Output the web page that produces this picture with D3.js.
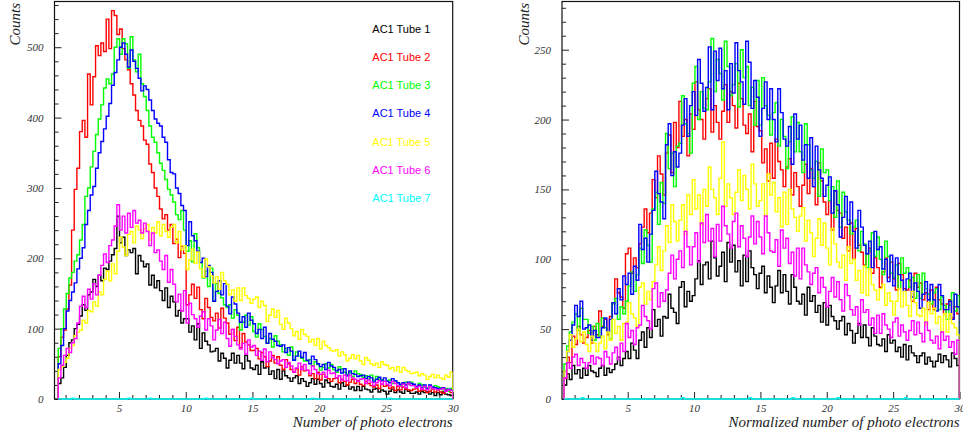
<!DOCTYPE html>
<html><head><meta charset="utf-8">
<script src="https://cdn.jsdelivr.net/npm/d3@7"></script>
<style>
html,body{margin:0;padding:0;background:#fff;}
svg{display:block;}
</style></head>
<body>
<svg id="c" width="963" height="439"></svg>
<script>
// ---------------- DATA ----------------
const tubeNames = ["AC1 Tube 1","AC1 Tube 2","AC1 Tube 3","AC1 Tube 4","AC1 Tube 5","AC1 Tube 6","AC1 Tube 7"];
const tubeColors = ["#000000","#ff0000","#00ff00","#0000ff","#ffff00","#ff00ff","#00ffff"];
const xMajorTicks = [5,10,15,20,25,30];
const leftYTicks = [0,100,200,300,400,500];
const rightYTicks = [0,50,100,150,200,250];
const leftXTitle = "Number of photo electrons";
const rightXTitle = "Normalized number of photo electrons";
const yTitle = "Counts";

// Left panel: photo-electron histograms (bins of ~0.2 from ~0.45 to 30)
const leftTube1 = [22,30,45, 62,80,84,100,106, 118,134,126,148,152, 170,160,176,168,186, 184,196,205,214,260, 222,230,204,212,208, 214,178,204,196,188, 192,162,176,158,168, 154,140,158,130,146, 138,118,126,108,114, 114,95,104,84,107, 72,94,82,77,67, 68,72,54,65,58, 44,55,65,51,62, 51,43,62,54,44, 42,48,35,53,44, 46,35,40,29,42, 28,40,33,30,25, 30,33,22,29,25, 18,23,29,21,28, 22,17,27,23,18, 17,21,14,23,18, 20,14,17,12,18, 12,18,14,13,10, 14,15,10,13,11, 7,11,14,9,13, 10,8,14,11,8, 8,10,7,11,9, 10,7,9,5,9, 6,10,7,6,5];
const leftTube2 = [60,88,98, 128,162,240,298,328, 380,396,372,462,418, 458,502,488,506,494, 540,498,552,545,518, 526,498,482,468,448, 432,410,396,388,368, 362,334,322,300,288, 270,256,262,240,248, 221,227,201,217,207, 134,148,163,143,159, 127,114,143,130,116, 111,122,101,129,115, 108,92,99,83,102, 73,93,81,77,69, 69,72,57,66,60, 46,54,62,51,60, 48,42,56,50,42, 38,43,34,46,40, 41,33,36,29,38, 27,35,31,29,25, 29,30,23,28,25, 20,24,28,22,26, 21,19,25,22,19, 17,20,15,21,18, 19,15,17,12,18, 13,17,14,13,12, 14,15,11,13,12, 9,11,14,10,13, 10,8,13,11,9];
const leftTube3 = [72,100,128, 150,172,180,196,205, 226,248,288,300,330, 352,376,398,418,442, 455,448,462,500,512, 490,512,505,470,515, 482,465,490,448,430, 410,388,372,365,350, 335,325,312,298,290, 280,262,255,268,240, 210,225,195,235,215, 194,172,182,160,186, 139,164,150,144,134, 130,134,115,127,119, 98,109,119,105,117, 96,88,107,99,89, 80,86,74,90,82, 77,67,72,62,74, 56,67,61,58,54, 54,56,47,53,49, 41,45,50,44,49, 42,38,46,43,38, 35,38,32,40,36, 35,31,33,28,34, 26,32,28,27,25, 26,27,22,25,23, 19,22,24,21,24, 19,17,22,20,17, 16,18,15,19,17, 16,13,15,11,15];
const leftTube4 = [50,76,100, 125,140,152,165,185, 200,215,248,268,290, 302,328,350,366,384, 402,420,446,464,482, 500,506,490,472,496, 480,470,456,438,445, 440,425,410,398,392, 388,372,365,340,322, 320,300,292,275,268, 218,252,232,225,210, 194,200,174,190,180, 139,153,168,148,164, 132,121,145,135,122, 109,117,102,122,112, 107,93,99,86,102, 79,93,85,82,76, 75,77,66,73,68, 55,61,68,59,66, 55,50,61,56,50, 46,49,42,52,47, 45,40,42,37,43, 33,40,36,35,32, 33,34,29,32,30, 24,28,31,26,30, 25,23,29,26,23, 21,23,20,24,22, 21,18,20,16,20, 15,20,17,16,15, 15,16,12,14,13];
const leftTube5 = [42,46,52, 58,72,76,90,95, 98,112,108,126,124, 138,132,152,148,170, 182,168,192,178,210, 230,216,204,234,238, 222,246,240,228,242, 248,226,244,236,252, 232,248,238,230,244, 248,222,238,212,218, 184,198,213,193,209, 185,173,199,188,175, 165,174,156,180,168, 163,148,155,139,158, 140,158,147,143,136, 142,145,130,139,133, 110,119,128,116,126, 106,99,115,108,100, 90,96,85,99,92, 89,81,85,76,86, 71,82,76,73,69, 68,70,61,67,63, 54,58,63,57,62, 54,49,59,55,50, 48,51,45,53,49, 48,43,45,40,46, 38,45,41,39,36, 37,38,33,36,34, 28,32,35,30,34, 30,28,34,31,38];
const leftTube6 = [30,48,62, 72,66,80,86,108, 132,146,130,156,142, 164,148,176,190,206, 194,218,226,246,276, 240,260,236,264,244, 268,250,254,236,250, 238,218,236,208,212, 196,184,204,166,184, 163,138,149,125,154, 108,136,120,114,102, 118,124,98,114,104, 84,98,113,93,109, 86,75,99,89,77, 71,79,64,84,74, 76,62,68,55,71, 53,67,59,56,50, 54,56,45,52,47, 38,44,51,42,49, 41,36,47,42,36, 35,38,31,41,36, 37,30,33,27,34, 26,34,30,28,25, 28,29,22,27,24, 19,23,26,21,25, 21,19,25,22,19, 18,21,16,22,19, 19,16,18,14,18, 13,18,15,14,13, 14,15,11,13,12];
const leftTube7 = [0,0,0, 0,0,1,0,0, 0,0,0,0,0, 0,0,0,0,0, 0,0,0,0,0, 0,0,0,1,0, 0,0,0,0,0, 0,1,0,0,0, 0,0,0,0,0, 0,0,0,0,0, 0,0,0,0,0, 0,0,1,0,0, 0,0,0,0,0, 0,0,0,0,0, 0,0,0,0,1, 0,0,0,0,0, 0,0,0,0,0, 0,0,0,0,0, 0,0,0,0,0, 0,0,1,0,0, 0,0,0,0,0, 0,0,0,0,0, 0,0,0,0,0, 0,0,0,0,0, 0,0,0,0,0, 0,1,0,0,0, 0,0,0,0,0, 0,0,0,0,0, 0,0,0,0,0, 0,0,0,0,0];

// Right panel: normalized photo-electron histograms (bins of ~0.2 from ~0.2 to 30)
const rightTube1 = [10,18,14, 24,18,21,15,22, 17,24,20,19,16, 22,24,17,22,19, 21,25,30,24,29, 34,29,40,35,29, 42,48,37,51,44, 64,52,57,45,59, 58,75,65,62,54, 80,84,66,77,70, 74,86,99,82,96, 98,86,113,101,88, 95,105,84,112,98, 110,91,99,81,103, 84,106,94,89,79, 90,95,76,88,80, 69,81,92,76,89, 77,68,89,80,70, 68,75,60,80,70, 74,62,67,55,69, 53,67,59,56,50, 56,59,46,54,49, 40,47,54,44,53, 44,38,51,45,39, 38,43,34,46,40, 42,34,37,30,39, 28,38,33,31,26, 31,33,25,30,27, 23,27,32,26,31, 28,23,33,29,24];
const rightTube2 = [15,30,26, 45,39,52,46,40, 44,49,40,52,46, 63,52,57,46,59, 69,86,76,73,65, 104,108,90,101,94, 111,123,136,119,133, 157,144,174,161,146, 176,189,162,198,180, 213,188,200,174,204, 193,227,207,200,186, 215,222,191,210,198, 186,206,225,198,220, 210,194,226,215,196, 190,204,177,213,195, 192,169,179,156,183, 158,186,170,164,152, 166,172,146,162,152, 138,153,168,147,165, 152,139,169,156,141, 132,142,121,149,135, 133,115,123,106,126, 100,122,110,105,96, 104,108,90,101,94, 80,91,101,87,98, 86,78,97,89,79, 78,85,70,90,80, 83,71,76,64,78, 64,80,71,68,61, 68,71,58,66,61];
const rightTube3 = [25,38,48, 55,61,49,65,57, 57,47,52,42,54, 45,58,51,48,43, 68,72,57,66,61, 70,81,91,77,89, 108,97,121,110,98, 136,148,125,155,140, 190,165,176,152,181, 183,217,197,190,176, 226,238,200,220,208, 207,227,258,220,243, 233,214,256,238,217, 225,240,209,250,230, 238,210,223,196,228, 196,230,210,203,189, 205,212,181,200,188, 165,184,202,177,198, 177,162,197,182,164, 158,170,145,179,162, 164,142,152,130,156, 123,148,134,128,118, 123,128,106,120,111, 94,106,119,102,116, 100,89,113,102,90, 87,96,79,101,90, 94,80,87,72,89, 72,90,79,75,68, 76,79,64,73,67, 57,67,76,63,74];
const rightTube4 = [20,34,42, 53,67,59,70,50, 51,53,42,49,44, 44,51,58,48,57, 69,61,79,71,88, 82,90,75,95,85, 125,107,115,98,118, 135,163,147,141,129, 182,197,160,177,166, 176,196,215,188,210, 220,203,243,226,206, 223,252,207,249,228, 251,222,235,207,240, 219,255,235,227,211, 256,241,208,228,216, 188,208,227,200,222, 200,184,222,205,186, 181,195,168,204,186, 196,171,182,158,187, 152,181,164,158,145, 153,159,133,149,139, 116,130,145,125,141, 120,108,135,123,110, 104,113,94,120,107, 109,93,100,84,103, 81,101,89,85,77, 86,90,73,83,77, 65,75,84,71,82, 71,63,82,74,64, 64,70,57,75,66];
const rightTube5 = [20,34,46, 37,43,50,41,48, 39,34,45,40,34, 40,45,36,48,42, 57,47,52,42,54, 55,69,61,58,52, 80,83,68,77,71, 84,96,109,92,106, 124,112,139,127,113, 128,139,118,146,132, 157,136,146,125,150, 138,166,150,144,132, 158,184,138,154,144, 132,148,164,142,160, 150,136,168,154,138, 142,154,131,161,146, 155,134,144,123,148, 125,150,136,130,120, 131,137,113,128,119, 102,115,129,110,126, 108,96,122,111,98, 94,103,85,109,97, 100,85,92,76,95, 74,93,82,78,71, 79,82,67,76,70, 60,70,79,66,77, 67,59,77,69,60, 59,65,53,69,61, 65,54,59,48,61, 48,61,54,51,46];
const rightTube6 = [15,26,22, 30,32,24,29,26, 22,26,31,25,30, 29,24,34,30,25, 33,37,28,40,34, 54,44,49,39,51, 53,67,59,56,50, 79,83,66,76,70, 78,90,103,86,100, 106,94,120,109,96, 109,119,98,126,112, 132,113,122,102,125, 113,138,124,118,108, 127,133,109,124,115, 102,116,131,111,127, 116,104,131,119,106, 105,114,95,121,108, 115,97,105,88,108, 86,108,96,91,82, 90,94,76,87,80, 66,77,87,73,84, 71,63,82,74,64, 60,66,53,71,62, 64,53,58,47,60, 47,61,53,50,44, 55,58,45,53,48, 42,49,56,46,55, 47,41,55,49,42, 40,45,36,48,42, 45,37,41,32,42];
const rightTube7 = [0,0,0, 0,0,0,0,1, 0,0,0,0,0, 0,0,0,0,0, 0,0,0,0,0, 0,0,0,0,0, 0,0,0,0,0, 0,0,0,0,0, 0,0,0,0,0, 0,0,0,0,1, 0,0,0,0,0, 0,0,0,0,0, 0,0,0,0,0, 0,0,0,0,0, 0,0,0,0,0, 0,1,0,0,0, 0,0,0,0,0, 0,0,0,0,0, 0,0,0,1,0, 0,0,0,0,0, 0,0,0,0,0, 0,0,0,0,0, 0,1,0,0,0, 0,0,0,0,0, 0,0,0,0,0, 0,0,0,0,0, 0,0,0,0,0, 0,0,0,1,0, 0,0,0,0,0, 0,0,0,0,0, 0,0,0,0,0, 0,0,0,0,0];

const leftSeries = [leftTube1,leftTube2,leftTube3,leftTube4,leftTube5,leftTube6,leftTube7];
const rightSeries = [rightTube1,rightTube2,rightTube3,rightTube4,rightTube5,rightTube6,rightTube7];

// ---------------- LAYOUT ----------------
const svg = d3.select("#c");
const FRAME_TOP = 1.5, FRAME_BOTTOM = 399;

const panels = [
  {series:leftSeries, x0:54.5, x1:452.7, xmin:0.17, xmax:30, ymax:565, histStart:0.45,
   yTicks:leftYTicks, yMinorStep:20, xTitle:leftXTitle, yTitleX:15, legend:true, id:"L"},
  {series:rightSeries, x0:562, x1:959.5, xmin:0.05, xmax:30, ymax:284.5, histStart:0.2,
   yTicks:rightYTicks, yMinorStep:10, xTitle:rightXTitle, yTitleX:524, legend:false, id:"R"}
];

const tickFont = "'Liberation Serif','DejaVu Serif',serif";

panels.forEach(p => {
  const x = d3.scaleLinear().domain([p.xmin, p.xmax]).range([p.x0, p.x1]);
  const y = d3.scaleLinear().domain([0, p.ymax]).range([FRAME_BOTTOM, FRAME_TOP]);
  const g = svg.append("g");

  // frame
  g.append("rect").attr("x", p.x0).attr("y", FRAME_TOP)
    .attr("width", p.x1 - p.x0).attr("height", FRAME_BOTTOM - FRAME_TOP)
    .attr("fill", "none").attr("stroke", "#111").attr("stroke-width", 1.2);

  // x axis major + minor
  const xMajor = d3.axisBottom(x).tickValues(xMajorTicks).tickSize(-7).tickPadding(5).tickFormat(d3.format("d"));
  const gx = g.append("g").attr("transform", `translate(0,${FRAME_BOTTOM})`).call(xMajor);
  const xMinor = d3.axisBottom(x).tickValues(d3.range(1, 31).filter(v => v % 5 !== 0)).tickSize(-4).tickFormat("");
  const gxm = g.append("g").attr("transform", `translate(0,${FRAME_BOTTOM})`).call(xMinor);

  // y axis major + minor
  const yMajor = d3.axisLeft(y).tickValues(p.yTicks).tickSize(-7).tickPadding(11).tickFormat(d3.format("d"));
  const gy = g.append("g").attr("transform", `translate(${p.x0},0)`).call(yMajor);
  const yMinor = d3.axisLeft(y).tickValues(d3.range(0, p.ymax, p.yMinorStep).filter(v => p.yTicks.indexOf(v) < 0)).tickSize(-4).tickFormat("");
  const gym = g.append("g").attr("transform", `translate(${p.x0},0)`).call(yMinor);

  [gx, gxm, gy, gym].forEach(a => {
    a.select(".domain").remove();
    a.selectAll("line").attr("stroke", "#222").attr("stroke-width", 1);
    a.selectAll("text").attr("font-family", tickFont).attr("font-style", "italic")
      .attr("font-size", 11).attr("fill", "#333");
  });

  // histograms
  const clipId = "clip" + p.id;
  svg.append("clipPath").attr("id", clipId).append("rect")
    .attr("x", p.x0).attr("y", 0).attr("width", p.x1 - p.x0).attr("height", FRAME_BOTTOM + 1);
  const hg = g.append("g").attr("clip-path", `url(#${clipId})`);
  p.series.forEach((vals, k) => {
    const n = vals.length;
    const w = (p.xmax - p.histStart) / n;
    const path = d3.path();
    path.moveTo(x(p.histStart), y(0));
    vals.forEach((v, i) => {
      path.lineTo(x(p.histStart + i * w), y(v));
      path.lineTo(x(p.histStart + (i + 1) * w), y(v));
    });
    path.lineTo(x(p.xmax), y(0));
    hg.append("path").attr("d", path.toString())
      .attr("fill", "none").attr("stroke", tubeColors[k])
      .attr("stroke-width", 1.4).attr("stroke-linejoin", "miter");
  });

  // titles
  g.append("text").attr("x", p.x1).attr("y", 427).attr("text-anchor", "end")
    .attr("font-family", tickFont).attr("font-style", "italic").attr("font-size", 15)
    .attr("fill", "#222").text(p.xTitle);
  g.append("text").attr("transform", `translate(${p.yTitleX + 5},3) rotate(-90)`)
    .attr("text-anchor", "end")
    .attr("font-family", tickFont).attr("font-style", "italic").attr("font-size", 15)
    .attr("fill", "#222").text(yTitle);

  // legend
  if (p.legend) {
    tubeNames.forEach((name, k) => {
      g.append("text").attr("x", 372.3).attr("y", 30 + k * 28.17)
        .attr("dominant-baseline", "middle")
        .attr("font-family", "'Liberation Sans',Arial,sans-serif").attr("font-size", 11)
        .attr("fill", tubeColors[k]).text(name);
    });
  }
});
</script>
</body></html>
